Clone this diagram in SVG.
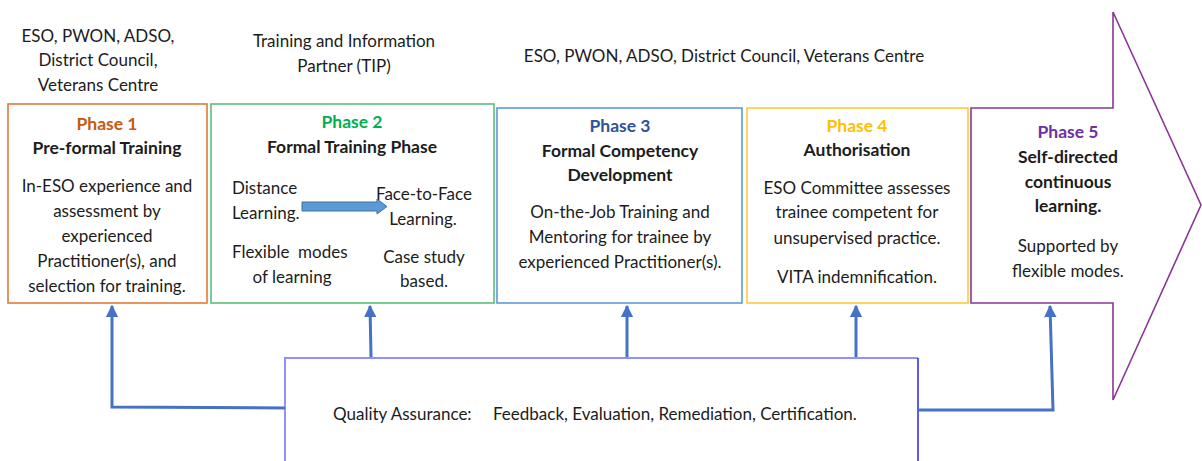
<svg xmlns="http://www.w3.org/2000/svg" width="1202" height="461" viewBox="0 0 1202 461">
  <style>
    text { font-family: Lato, "Open Sans", "Liberation Sans", sans-serif; fill: #1c1c1c; }
    .body { font-size: 17px; text-anchor: middle; }
    .left { font-size: 17px; text-anchor: start; }
    .head { font-size: 17.5px; font-weight: bold; text-anchor: middle; }
    .top { font-size: 17px; text-anchor: middle; }
    .box { fill: #ffffff; stroke-width: 1.6; }
    .conn { fill: none; stroke: #4472C4; stroke-width: 3; }
  </style>
  <defs>
    <marker id="arr" viewBox="0 0 10 10" refX="9" refY="5" markerWidth="4.2" markerHeight="4.2" orient="auto" markerUnits="strokeWidth">
      <path d="M0,0 L10,5 L0,10 z" fill="#4472C4"/>
    </marker>
  </defs>

  <rect width="1202" height="461" fill="#ffffff"/>

  <!-- stakeholder captions above the phases -->
  <g id="captions">
    <text class="top" x="98" y="42">ESO, PWON, ADSO,</text>
    <text class="top" x="98" y="66">District Council,</text>
    <text class="top" x="98" y="91">Veterans Centre</text>
    <text class="top" x="344" y="47">Training and Information</text>
    <text class="top" x="344" y="72">Partner (TIP)</text>
    <text class="top" x="724" y="62">ESO, PWON, ADSO, District Council, Veterans Centre</text>
  </g>

  <!-- Phase 5: large block arrow -->
  <g id="phase5">
    <path class="box" stroke="#8B3597" d="M971,108 L1113,108 L1113,12 L1201,205 L1113,400 L1113,303 L971,303 Z"/>
    <text class="head" x="1068" y="138" style="fill:#7030A0">Phase 5</text>
    <text class="head" x="1068" y="163">Self-directed</text>
    <text class="head" x="1068" y="188">continuous</text>
    <text class="head" x="1068" y="212">learning.</text>
    <text class="body" x="1068" y="252">Supported by</text>
    <text class="body" x="1068" y="277">flexible modes.</text>
  </g>

  <g id="phase1">
    <rect class="box" stroke="#E07B39" x="8" y="104" width="199" height="199"/>
    <text class="head" x="107" y="130" style="fill:#C55A11">Phase 1</text>
    <text class="head" x="107" y="154">Pre-formal Training</text>
    <text class="body" x="107" y="192">In-ESO experience and</text>
    <text class="body" x="107" y="217">assessment by</text>
    <text class="body" x="107" y="242">experienced</text>
    <text class="body" x="107" y="267">Practitioner(s), and</text>
    <text class="body" x="107" y="292">selection for training.</text>
  </g>

  <g id="phase2">
    <rect class="box" stroke="#5CBF7A" x="211" y="104" width="283" height="199"/>
    <text class="head" x="352" y="128" style="fill:#00B050">Phase 2</text>
    <text class="head" x="352" y="153">Formal Training Phase</text>
    <text class="left" x="232" y="194">Distance</text>
    <text class="left" x="232" y="219">Learning.</text>
    <text class="left" x="376" y="200">Face-to-Face</text>
    <text class="body" x="423" y="225">Learning.</text>
    <text class="left" x="232" y="258" xml:space="preserve">Flexible  modes</text>
    <text class="body" x="292" y="283">of learning</text>
    <text class="body" x="424" y="263">Case study</text>
    <text class="body" x="424" y="287">based.</text>
    <!-- distance-to-face block arrow -->
    <path d="M302,202 L377,202 L377,199 L387,206.5 L377,214 L377,211 L302,211 Z" fill="#5B9BD5" stroke="#41719C" stroke-width="1"/>
  </g>

  <g id="phase3">
    <rect class="box" stroke="#5B9BD5" x="497" y="108" width="245" height="195"/>
    <text class="head" x="620" y="132" style="fill:#2F5597">Phase 3</text>
    <text class="head" x="620" y="157">Formal Competency</text>
    <text class="head" x="620" y="181">Development</text>
    <text class="body" x="620" y="218">On-the-Job Training and</text>
    <text class="body" x="620" y="243">Mentoring for trainee by</text>
    <text class="body" x="620" y="268">experienced Practitioner(s).</text>
  </g>

  <g id="phase4">
    <rect class="box" stroke="#FFC83D" x="747" y="108" width="221" height="195"/>
    <text class="head" x="857" y="132" style="fill:#FFC000">Phase 4</text>
    <text class="head" x="857" y="156">Authorisation</text>
    <text class="body" x="857" y="194">ESO Committee assesses</text>
    <text class="body" x="857" y="218">trainee competent for</text>
    <text class="body" x="857" y="244">unsupervised practice.</text>
    <text class="body" x="857" y="283">VITA indemnification.</text>
  </g>

  <g id="quality">
    <path d="M285,465 L285,358 L918,358" fill="#ffffff" stroke="#9090FF" stroke-width="2"/>
    <line x1="918" y1="358" x2="918" y2="465" stroke="#3333EE" stroke-width="1.6"/>
    <text class="left" x="333" y="420">Quality Assurance:</text>
    <text class="left" x="493" y="420">Feedback, Evaluation, Remediation, Certification.</text>
  </g>

  <!-- feedback connectors from Quality Assurance to each phase -->
  <g id="connectors">
    <path class="conn" marker-end="url(#arr)" d="M285,408 L112,407 L112,306"/>
    <path class="conn" marker-end="url(#arr)" d="M371,357 L370,306"/>
    <path class="conn" marker-end="url(#arr)" d="M627,357 L627,306"/>
    <path class="conn" marker-end="url(#arr)" d="M856,357 L856,306"/>
    <path class="conn" marker-end="url(#arr)" d="M918,410 L1053,410 L1050,306"/>
  </g>
</svg>
